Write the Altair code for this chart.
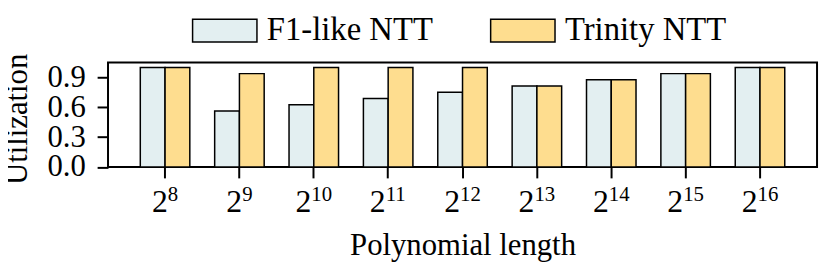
import altair as alt
import pandas as pd

exponents = [8, 9, 10, 11, 12, 13, 14, 15, 16]
lengths = [f"2^{e}" for e in exponents]
series = ["F1-like NTT", "Trinity NTT"]
f1_like = [1.0, 0.5625, 0.625, 0.6875, 0.75, 0.8125, 0.875, 0.9375, 1.0]
trinity = [1.0, 0.9375, 1.0, 1.0, 1.0, 0.8125, 0.875, 0.9375, 1.0]
colors = ["#e3eff1", "#fedd8f"]
y_ticks = [0.0, 0.3, 0.6, 0.9]

rows = []
for i, L in enumerate(lengths):
    rows.append({"length": L, "series": series[0], "value": f1_like[i]})
    rows.append({"length": L, "series": series[1], "value": trinity[i]})
df = pd.DataFrame(rows)

labels = pd.DataFrame({
    "length": lengths,
    "base": ["2"] * len(exponents),
    "exp": [str(e) for e in exponents],
    "ndig": [len(str(e)) for e in exponents],
})

FONT = "Liberation Serif"
W, H = 716, 105.6

xscale = alt.Scale(domain=lengths, paddingInner=0, paddingOuter=0.267, align=0.5)
x_axis = alt.Axis(title="Polynomial length", labels=False,
                  tickSize=11, tickWidth=2, tickColor="black", domain=False,
                  titleFont=FONT, titleFontSize=31, titleFontWeight="normal",
                  titleColor="black", titlePadding=52)

bars = alt.Chart(df).mark_bar(stroke="black", strokeWidth=1.5).encode(
    x=alt.X("length:N", sort=lengths, scale=xscale, axis=x_axis),
    xOffset=alt.XOffset("series:N", sort=series,
                        scale=alt.Scale(paddingInner=0, paddingOuter=0.502)),
    y=alt.Y("value:Q", scale=alt.Scale(domain=[0, 1.05], nice=False, zero=True),
            axis=alt.Axis(title="Utilization", values=y_ticks, format=".1f",
                          labelFont=FONT, labelFontSize=31, labelColor="black",
                          labelOverlap=False,
                          tickSize=11, tickWidth=2, tickColor="black", labelPadding=12,
                          domain=False, grid=False,
                          titleFont=FONT, titleFontSize=31, titleFontWeight="normal",
                          titleColor="black", titleX=-82, titleY=57, titleAngle=270,
                          titleBaseline="alphabetic", titleAlign="center")),
    color=alt.Color("series:N", sort=series,
                    scale=alt.Scale(domain=series, range=colors),
                    legend=alt.Legend(title=None, orient="none", direction="horizontal",
                                      legendX=84.4, legendY=-65.9, padding=0,
                                      symbolType="M-1,-0.354H1V0.354H-1Z", symbolSize=4225,
                                      symbolStrokeColor="black", symbolStrokeWidth=1.5,
                                      symbolOpacity=1,
                                      labelFont=FONT, labelFontSize=33, labelColor="black",
                                      labelOffset=9, columnPadding=55, labelLimit=400)),
)


def label_layer(field, ndig, align, dx, size, base_y):
    return alt.Chart(labels).transform_filter(
        alt.datum.ndig == ndig
    ).mark_text(align=align, baseline="alphabetic", dx=dx, font=FONT,
                fontSize=size, color="black").encode(
        x=alt.X("length:N", sort=lengths, scale=xscale, axis=x_axis),
        y=alt.value(base_y),
        text=f"{field}:N",
    )


BASE_Y = H + 45.7
EXP_Y = H + 34.7
layers = [
    label_layer("base", 1, "right", 2.75, 32, BASE_Y),
    label_layer("exp", 1, "left", 2.75, 21, EXP_Y),
    label_layer("base", 2, "right", -2.5, 32, BASE_Y),
    label_layer("exp", 2, "left", -2.5, 21, EXP_Y),
]

chart = alt.layer(bars, *layers).properties(
    width=W, height=H,
    autosize=alt.AutoSizeParams(type="none"),
    padding={"left": 101, "top": 53.7, "right": 4, "bottom": 96},
).configure(font=FONT).configure_view(stroke="black", strokeWidth=2).configure_axis(
    grid=False, titleFont=FONT, labelFont=FONT)

chart.save("out.html", embed_options={"renderer": "svg", "actions": False})
